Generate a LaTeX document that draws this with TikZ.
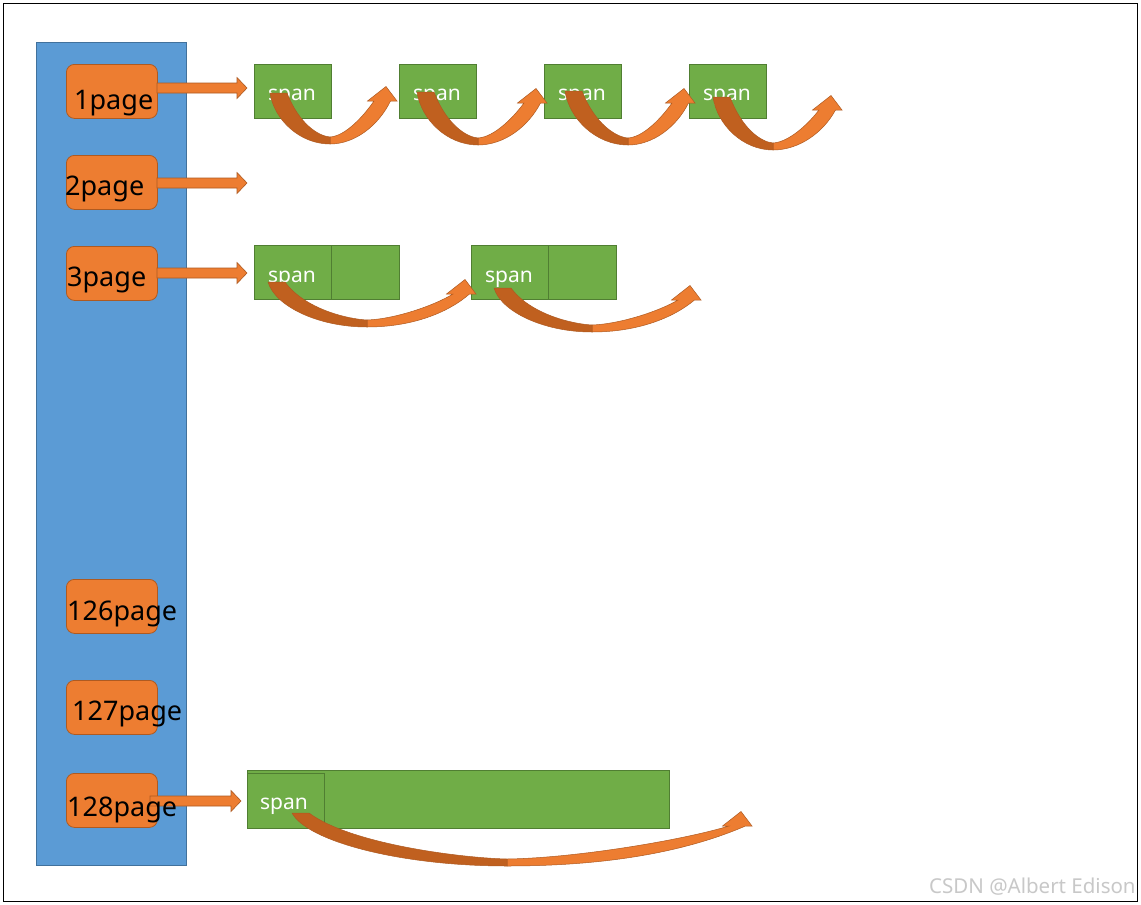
\documentclass[tikz,border=0pt]{standalone}
\usepackage{fontspec}
\setmainfont{Noto Sans}
\definecolor{colblue}{HTML}{5B9BD5}
\definecolor{colblueb}{HTML}{41719C}
\definecolor{orng}{HTML}{ED7D31}
\definecolor{orngb}{HTML}{AE5A21}
\definecolor{orngd}{HTML}{C0601F}
\definecolor{grn}{HTML}{70AD47}
\definecolor{grnb}{HTML}{507E32}
\definecolor{wmark}{HTML}{C8C8C8}
\tikzset{
  column/.style={draw=colblueb, fill=colblue, line width=0.8pt, anchor=north west, minimum width=150pt, minimum height=823pt, inner sep=0pt},
  pagebox/.style={draw=orngb, fill=orng, line width=0.8pt, rounded corners=8pt, anchor=north west, minimum width=91pt, minimum height=54pt, inner sep=0pt},
  pagetext/.style={anchor=base west, inner sep=0pt, font=\fontsize{27}{30}\selectfont, text=black},
  spanbox/.style={draw=grnb, fill=grn, line width=0.8pt, anchor=north west, minimum width=77pt, minimum height=54pt, inner sep=0pt},
  spantext/.style={anchor=base, inner sep=0pt, font=\fontsize{21}{24}\selectfont, text=white},
  blockarrow/.style={draw=orngb, fill=orng, line width=0.6pt, line join=miter},
  ribbonlight/.style={draw=orngb, fill=orng, line width=0.5pt},
  ribbondark/.style={draw=orngb, fill=orngd, line width=0.5pt}
}
% straight block arrow: x1, x2 (tip), y
\newcommand\pagearrow[3]{%
  \filldraw[blockarrow] (#1,{#3-5}) -- ({#2-10},{#3-5}) -- ({#2-10},{#3-10.5}) -- (#2,#3)
    -- ({#2-10},{#3+10.5}) -- ({#2-10},{#3+5}) -- (#1,{#3+5}) -- cycle;}
% curved ribbon arrow: start (sx,sy), bottom (bx,by), head base centre (hx,hy)
\newcommand\ribbon[6]{%
  \pgfmathsetmacro\rdx{#3-#1}\pgfmathsetmacro\rdy{#4-#2}%
  \pgfmathsetmacro\rex{#5-#3}\pgfmathsetmacro\rey{#4-#6}%
  \filldraw[ribbonlight] (#3,#4) .. controls ({#3+0.48*\rex},#4) and ({#5+8.5-0.23*\rex},{#6+0.57*\rey}) .. ({#5+8.5},#6)
    -- ({#5+15},#6) -- ({#5+4},{#6-14.5}) -- ({#5-14.5},#6) -- ({#5-8},#6)
    .. controls ({#5-8-0.2*\rex},{#6+0.35*\rey}) and ({#3+0.3*\rex},{#4-8}) .. (#3,{#4-7}) -- cycle;
  \filldraw[ribbondark] (#1,#2) .. controls ({#1+0.07*\rdx},{#2+0.53*\rdy}) and ({#3-0.5*\rdx},#4) .. (#3,#4)
    -- (#3,{#4-7}) .. controls ({#3-0.2*\rdx},{#4-8}) and ({#1+17+0.2*\rdx},{#2+0.6*\rdy}) .. ({#1+17},#2) -- cycle;}
\begin{document}
\begin{tikzpicture}[x=1pt,y=-1pt]
\useasboundingbox (0,0) rectangle (1141,905);
\fill[white] (0,0) rectangle (1141,905);
\draw[black, line width=0.8pt] (3,3) rectangle (1137,901);
% column
\node[column] (col) at (36,42) {};
% page boxes
\node[pagebox] (p1) at (66,64) {};
\node[pagebox] (p2) at (66,155) {};
\node[pagebox] (p3) at (66,246) {};
\node[pagebox] (p126) at (66,579) {};
\node[pagebox] (p127) at (66,680) {};
\node[pagebox] (p128) at (66,773) {};
% arrows from pages
\pagearrow{157}{247}{88}
\pagearrow{157}{247}{183}
\pagearrow{157}{247}{273}
\pagearrow{150}{241}{801}
% page labels
\node[pagetext] (t1) at (74,109) {1page};
\node[pagetext] (t2) at (65,195) {2page};
\node[pagetext] (t3) at (67,286) {3page};
\node[pagetext] (t126) at (67,620) {126page};
\node[pagetext] (t127) at (72,720) {127page};
\node[pagetext] (t128) at (67,816) {128page};
% row 1 spans
\node[spanbox] (s1) at (254,64) {};
\node[spanbox] (s2) at (399,64) {};
\node[spanbox] (s3) at (544,64) {};
\node[spanbox] (s4) at (689,64) {};
\node[spantext] (s1t) at (292,100) {span};
\node[spantext] (s2t) at (437,100) {span};
\node[spantext] (s3t) at (582,100) {span};
\node[spantext] (s4t) at (727,100) {span};
% row 3 spans
\node[spanbox] (r1a) at (254,245) {};
\node[spanbox, minimum width=68pt] (r1b) at (331,245) {};
\node[spanbox] (r2a) at (471,245) {};
\node[spanbox, minimum width=68pt] (r2b) at (548,245) {};
\node[spantext] (r1t) at (292,282) {span};
\node[spantext] (r2t) at (509,282) {span};
% row 128
\node[spanbox, minimum width=422pt, minimum height=58pt] (big) at (247,770) {};
\node[spanbox, minimum width=77pt, minimum height=55pt] (bigin) at (247,773) {};
\node[spantext] (bigt) at (284,809) {span};
% ribbons
\ribbon{270}{93}{330}{144}{382}{101}
\ribbon{417}{92}{478}{145}{532}{103}
\ribbon{565}{91}{628}{145}{680}{103}
\ribbon{713}{97}{773}{150}{827}{110}
\ribbon{268}{282}{367}{327}{461}{294}
\ribbon{494}{288}{592}{332}{686}{300}
\ribbon{292}{813}{507}{866}{737}{826}
% watermark
\node[anchor=base west, inner sep=0pt, font=\fontsize{20.5}{23}\selectfont, text=wmark] (wm) at (929,893) {CSDN @Albert Edison};
\end{tikzpicture}
\end{document}
